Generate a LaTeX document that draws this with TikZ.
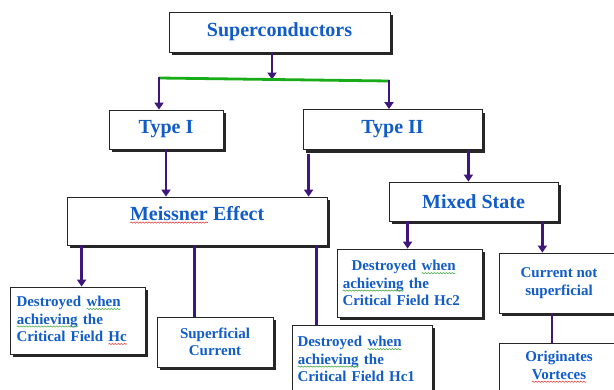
\documentclass[tikz,border=0pt]{standalone}
\usepackage{fontspec}
\setmainfont{Liberation Serif}
\usetikzlibrary{arrows.meta}
\usetikzlibrary{shadows}
\usetikzlibrary{decorations.pathmorphing}

\definecolor{textblue}{RGB}{18,92,200}
\definecolor{arrowpurple}{RGB}{62,22,124}
\definecolor{bargreen}{RGB}{24,172,24}
\definecolor{wavegreen}{RGB}{80,170,80}
\definecolor{wavered}{RGB}{230,70,70}

\newcommand\markwave[2]{\tikz[baseline=(w.base)]{\node[inner sep=0pt, outer sep=0pt, draw=none, fill=none,
    minimum width=0pt, minimum height=0pt, text width={}, align=none] (w) {#2};
    \draw[color=#1, line width=0.6pt, decorate, decoration={snake, amplitude=0.6pt, segment length=3pt}]
    ([yshift=-2.5pt]w.base west) -- ([yshift=-2.5pt]w.base east);}}
\newcommand\greenwave[1]{\markwave{wavegreen}{#1}}
\newcommand\redwave[1]{\markwave{wavered}{#1}}

\begin{document}
\begin{tikzpicture}[x=1pt, y=-1pt,
        box/.style={draw=black!85, line width=0.8pt, fill=white, inner sep=0pt,
            drop shadow={shadow xshift=3pt, shadow yshift=-3pt, fill=black!85, opacity=1},
            text=textblue, font=\bfseries},
        bigbox/.style={box, font=\bfseries\fontsize{20}{22}\selectfont},
        smallbox/.style={box, font=\bfseries\fontsize{15}{17.5}\selectfont},
        arr/.style={draw=arrowpurple, line width=2.8pt, -{Triangle[width=9pt,length=7pt]}},
        link/.style={draw=arrowpurple, line width=2.8pt}]

        \useasboundingbox (0,0) rectangle (614,389);

        \node[bigbox, minimum width=221pt, minimum height=40pt] (sup) at (279.5,32) {Superconductors};
        \node[bigbox, minimum width=114pt, minimum height=39pt] (t1) at (166,129.5) {Type I};
        \node[bigbox, minimum width=179pt, minimum height=40pt] (t2) at (392.5,129.5) {Type II};
        \node[bigbox, minimum width=260pt, minimum height=48pt, text depth=16pt] (mei) at (197,221) {\redwave{Meissner} Effect};
        \node[bigbox, minimum width=169pt, minimum height=39pt] (mix) at (473.5,201.5) {Mixed State};

        \node[smallbox, minimum width=135pt, minimum height=67pt, text width=122pt, align=left] (hc) at (77.5,320.5)
            {Destroyed \greenwave{when}\\\greenwave{achieving} the\\Critical Field \redwave{Hc}};
        \node[smallbox, minimum width=116pt, minimum height=50pt, align=center] (sc) at (215,342)
            {Superficial\\Current};
        \node[smallbox, minimum width=140pt, minimum height=68pt, text width=129pt, align=left] (hc1) at (362,359)
            {Destroyed \greenwave{when}\\\greenwave{achieving} the\\Critical Field Hc1};
        \node[smallbox, minimum width=145pt, minimum height=68pt, text width=134pt, align=left] (hc2) at (409.5,283)
            {\hspace*{9pt}Destroyed \greenwave{when}\\\greenwave{achieving} the\\Critical Field Hc2};
        \node[smallbox, minimum width=120pt, minimum height=60pt, align=center] (cns) at (559,283)
            {Current not\\superficial};
        \node[smallbox, minimum width=120pt, minimum height=48pt, align=center] (ov) at (559,367)
            {Originates\\\redwave{Vorteces}};

        \coordinate (jm) at (272,79.5);
        \coordinate (jl) at (159,78);
        \coordinate (jr) at (389,81);

        % top level split
        \draw[arr] (sup.south -| jm) -- (jm);
        \draw[draw=bargreen, line width=2.8pt] (jl) -- (jr);
        \draw[arr] ([yshift=1.2pt]jl) -- (t1.north -| jl);
        \draw[arr] ([yshift=1.2pt]jr) -- (t2.north -| jr);

        \draw[arr] (t1.south) -- (mei.north -| t1.south);
        \draw[arr] ([xshift=6pt, yshift=-4pt]t2.south west) -- ([xshift=6pt]t2.south west |- mei.north);
        \draw[arr] ([xshift=-14pt]t2.south east) -- ([xshift=-14pt]t2.south east |- mix.north);

        \draw[arr] ([xshift=15pt]mei.south west) -- ([xshift=15pt]mei.south west |- hc.north);
        \draw[link] ([xshift=128pt]mei.south west) -- ([xshift=128pt]mei.south west |- sc.north);
        \draw[link] ([xshift=-11pt]mei.south east) -- ([xshift=-11pt]mei.south east |- hc1.north);

        \draw[arr] ([xshift=19pt]mix.south west) -- ([xshift=19pt]mix.south west |- hc2.north);
        \draw[arr] ([xshift=-16pt]mix.south east) -- ([xshift=-16pt]mix.south east |- cns.north);
        \draw[link] ([xshift=-7pt]cns.south) -- ([xshift=-7pt]cns.south |- ov.north);

\end{tikzpicture}
\end{document}
